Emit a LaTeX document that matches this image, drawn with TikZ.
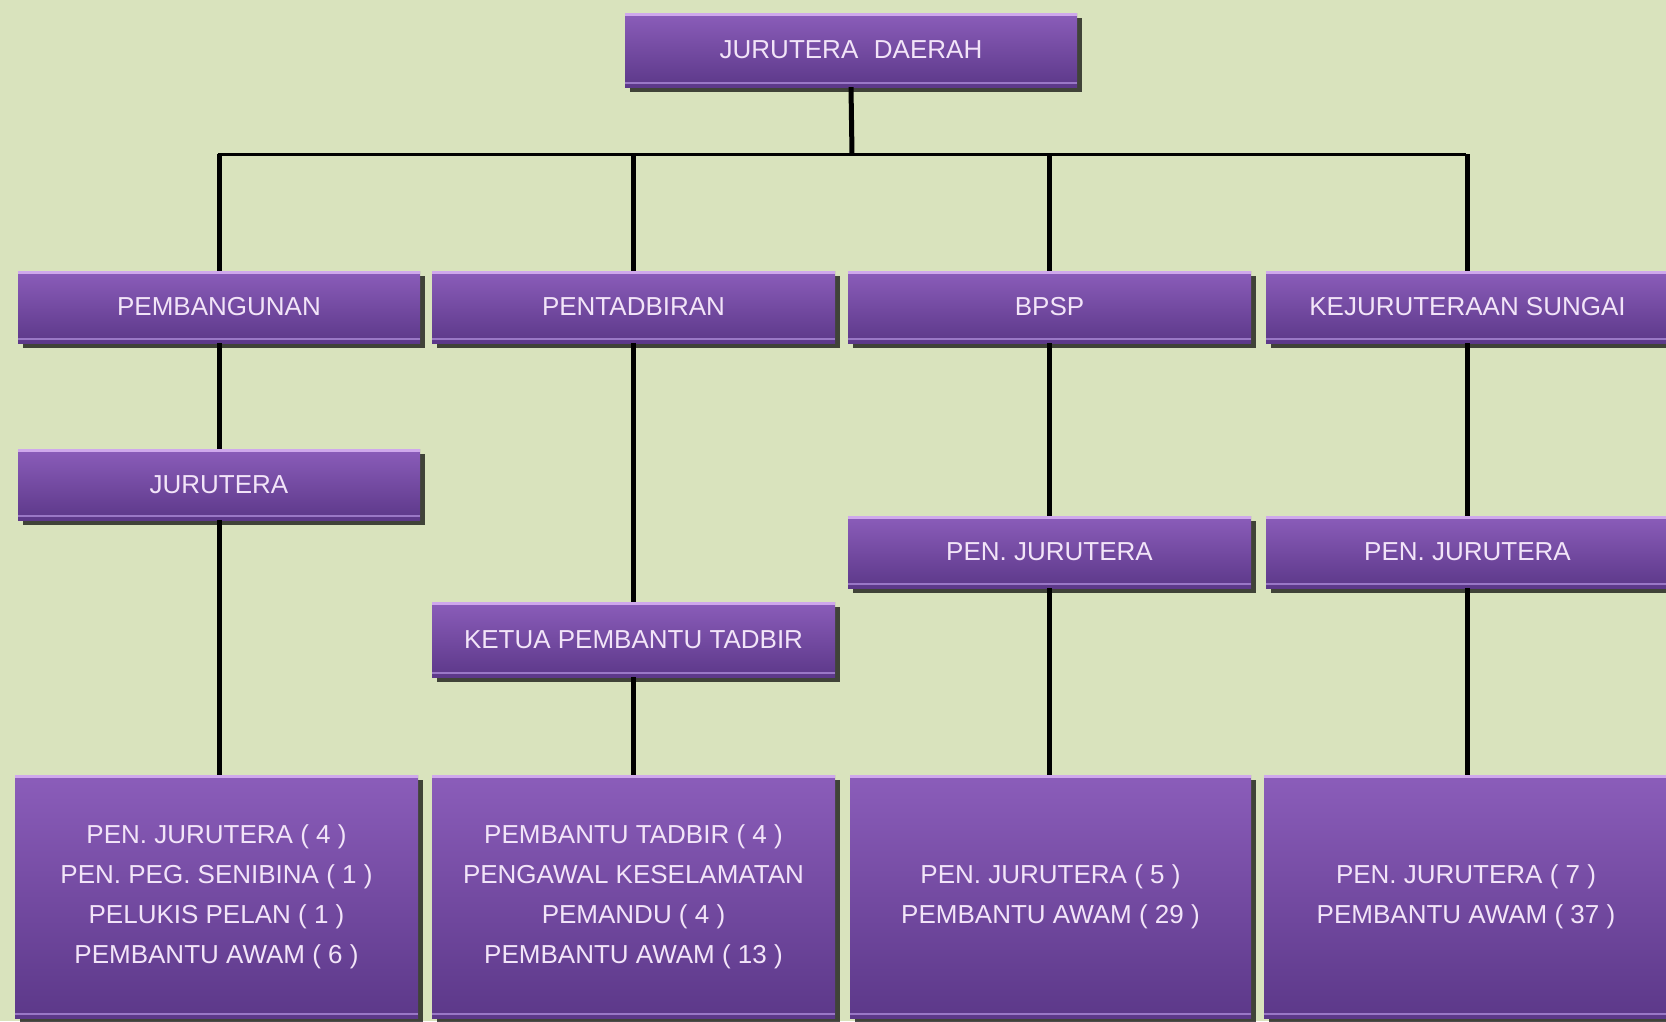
\documentclass[tikz,border=0pt]{standalone}
\usepackage{fontspec}
\setmainfont{Liberation Sans}
\usetikzlibrary{shadows}
\definecolor{bg}{HTML}{D9E3BD}
\definecolor{boxtop}{HTML}{8B5DBA}
\definecolor{boxmid}{HTML}{7449A6}
\definecolor{boxbot}{HTML}{5C3889}
\definecolor{hitop}{HTML}{CFA8EC}
\definecolor{hibot}{HTML}{9A78C6}
\definecolor{txt}{HTML}{F2E4F8}
\begin{document}
\begin{tikzpicture}[x=1pt,y=-1pt,
  orgbox/.style={rectangle, inner sep=0pt, text=txt,
    font=\fontsize{26}{40}\selectfont, align=center,
    top color=boxtop, middle color=boxmid, bottom color=boxbot,
    drop shadow={shadow xshift=5pt, shadow yshift=-5pt, opacity=0.7, fill=black},
    path picture={
      \fill[hitop] (path picture bounding box.north west) rectangle ([yshift=-3pt]path picture bounding box.north east);
      \fill[hibot] ([yshift=5pt]path picture bounding box.south west) rectangle ([yshift=3pt]path picture bounding box.south east);
    }},
  vline/.style={line width=5pt, black},
  hline/.style={line width=3pt, black}]
\useasboundingbox (0,0) rectangle (1666,1021);
\fill[bg] (0,0) rectangle (1666,1021);
\clip (0,0) rectangle (1666,1021);

% level 0
\node[orgbox, minimum width=452pt, minimum height=74pt] (top) at (851,50) {JURUTERA\hspace{0.6em}DAERAH};

% level 1
\node[orgbox, minimum width=402pt, minimum height=72pt] (pemb) at (219,307) {PEMBANGUNAN};
\node[orgbox, minimum width=403pt, minimum height=72pt] (pent) at (633.5,307) {PENTADBIRAN};
\node[orgbox, minimum width=403pt, minimum height=72pt] (bpsp) at (1049.5,307) {BPSP};
\node[orgbox, minimum width=403pt, minimum height=72pt] (kej) at (1467.5,307) {KEJURUTERAAN SUNGAI};

% level 2
\node[orgbox, minimum width=402pt, minimum height=71pt] (jur) at (219,484.5) {JURUTERA};
\node[orgbox, minimum width=403pt, minimum height=75pt] (ketua) at (633.5,639.5) {KETUA PEMBANTU TADBIR};
\node[orgbox, minimum width=403pt, minimum height=72pt] (penjA) at (1049.5,552) {PEN. JURUTERA};
\node[orgbox, minimum width=403pt, minimum height=72pt] (penjB) at (1467.5,552) {PEN. JURUTERA};

% level 3
\node[orgbox, minimum width=403pt, minimum height=243pt] (bA) at (216.5,896.5)
  {PEN. JURUTERA ( 4 )\\PEN. PEG. SENIBINA ( 1 )\\PELUKIS PELAN ( 1 )\\PEMBANTU AWAM ( 6 )};
\node[orgbox, minimum width=403pt, minimum height=243pt] (bB) at (633.5,896.5)
  {PEMBANTU TADBIR ( 4 )\\PENGAWAL KESELAMATAN\\PEMANDU ( 4 )\\PEMBANTU AWAM ( 13 )};
\node[orgbox, minimum width=401pt, minimum height=243pt] (bC) at (1050.5,896.5)
  {PEN. JURUTERA ( 5 )\\PEMBANTU AWAM ( 29 )};
\node[orgbox, minimum width=404pt, minimum height=243pt] (bD) at (1466,896.5)
  {PEN. JURUTERA ( 7 )\\PEMBANTU AWAM ( 37 )};

% connectors
\coordinate (hub) at (852,154);
\draw[vline] (top.south) -- (hub);
\foreach \n in {pemb,pent,bpsp,kej}{
  \draw[vline] (\n.north) -- (\n.north |- hub);
  \draw[hline] ([xshift=-1.5pt]\n.north |- hub) -- (hub);
}
\draw[vline] (pemb.south) -- (jur.north);
\draw[vline] (jur.south) -- (jur.south |- bA.north);
\draw[vline] (pent.south) -- (ketua.north);
\draw[vline] (ketua.south) -- (ketua.south |- bB.north);
\draw[vline] (bpsp.south) -- (penjA.north);
\draw[vline] (penjA.south) -- (penjA.south |- bC.north);
\draw[vline] (kej.south) -- (penjB.north);
\draw[vline] (penjB.south) -- (penjB.south |- bD.north);
\end{tikzpicture}
\end{document}
